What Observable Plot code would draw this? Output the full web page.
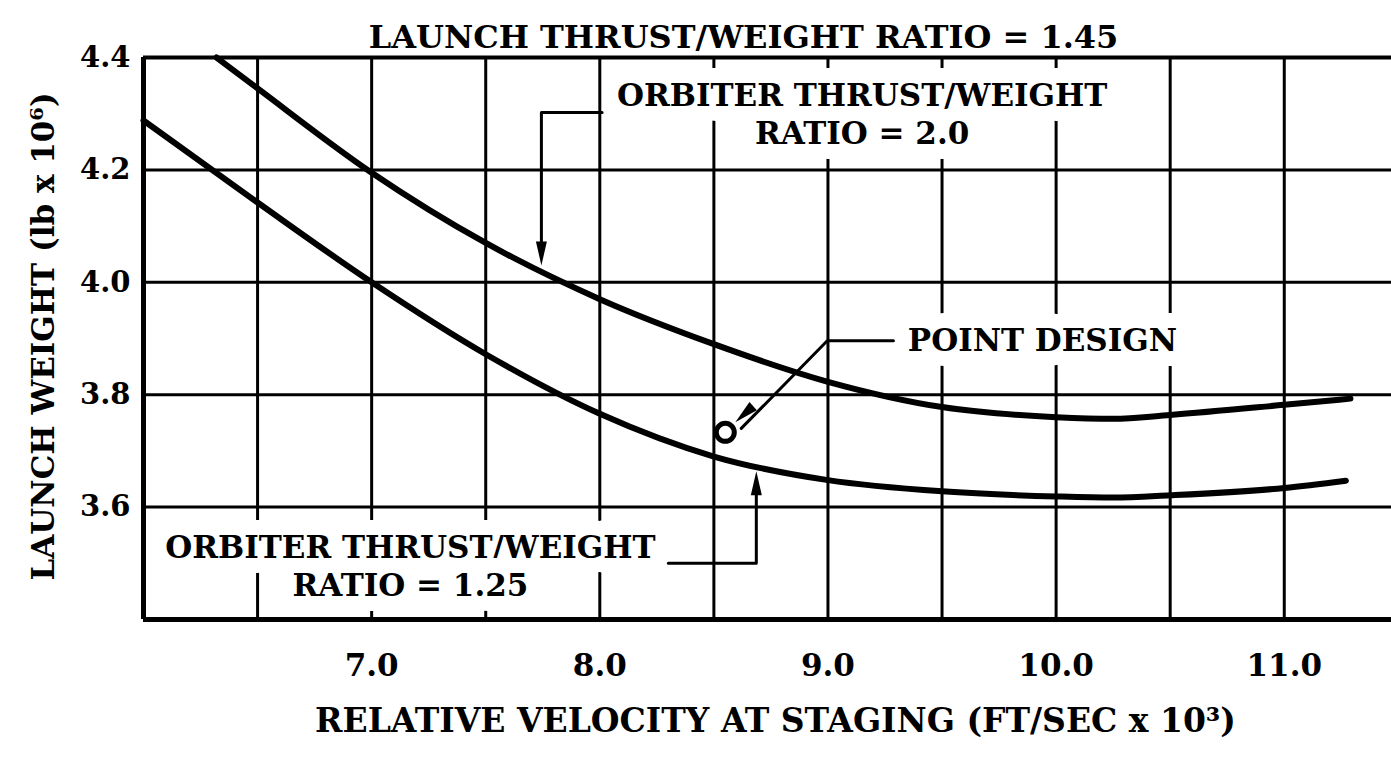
<!DOCTYPE html>
<html>
<head>
<meta charset="utf-8">
<script src="https://cdn.jsdelivr.net/npm/d3@7"></script>
<script src="https://cdn.jsdelivr.net/npm/@observablehq/plot@0.6"></script>
<style>
  html, body { margin: 0; padding: 0; background: #fff; }
  #chart svg { display: block; }
</style>
</head>
<body>
<div id="chart"></div>
<script>
// ---- data ----
const title = "LAUNCH THRUST/WEIGHT RATIO = 1.45";
const xTitle = "RELATIVE VELOCITY AT STAGING (FT/SEC x 10³)";
const yTitle = "LAUNCH WEIGHT (lb x 10⁶)";

const xTicks = [7, 8, 9, 10, 11];
const yTicks = [3.6, 3.8, 4.0, 4.2, 4.4];
const xGrid = [6.5, 7, 7.5, 8, 8.5, 9, 9.5, 10, 10.5, 11];
const yGrid = [3.6, 3.8, 4.0, 4.2];

// Orbiter thrust/weight ratio = 2.0
const tw20X = [6.32, 6.5, 7.0, 7.5, 8.0, 8.5, 9.0, 9.5, 10.0, 10.25, 10.5, 11.0, 11.29];
const tw20Y = [4.40, 4.345, 4.195, 4.070, 3.970, 3.890, 3.823, 3.778, 3.760, 3.757, 3.764, 3.782, 3.793];
// Orbiter thrust/weight ratio = 1.25
const tw125X = [6.0, 6.5, 7.0, 7.5, 8.0, 8.5, 9.0, 9.5, 10.0, 10.25, 10.5, 11.0, 11.27];
const tw125Y = [4.288, 4.142, 4.0, 3.872, 3.766, 3.690, 3.648, 3.628, 3.619, 3.617, 3.621, 3.634, 3.647];

// point design
const pointX = [8.55];
const pointY = [3.733];

// annotations
const labelText = ["ORBITER THRUST/WEIGHT\nRATIO = 2.0", "ORBITER THRUST/WEIGHT\nRATIO = 1.25", "POINT DESIGN"];
const labelX = [9.15, 7.17, 9.94];
const labelY = [4.301, 3.498, 3.90];

const leaderTW20 = [[8.01, 4.302], [7.744, 4.302], [7.744, 4.06]];
const leaderTW125 = [[8.30, 3.50], [8.686, 3.50], [8.686, 3.64]];
const leaderPoint = [[9.287, 3.896], [8.997, 3.896], [8.62, 3.74]];
const headX = [7.744, 8.686, 8.594];
const headY = [4.03, 3.664, 3.751];
const headAngle = [180, 0, 228];

// ---- build ----
const curves = [
  ...tw20X.map((x, i) => ({x, y: tw20Y[i], s: "2.0"})),
  ...tw125X.map((x, i) => ({x, y: tw125Y[i], s: "1.25"}))
];
const labels = labelText.map((t, i) => ({t, x: labelX[i], y: labelY[i]}));
const heads = headX.map((x, i) => ({x, y: headY[i], a: headAngle[i]}));
const leaders = [leaderTW20, leaderTW125, leaderPoint].flatMap((pts, k) => pts.map(([x, y]) => ({x, y, k})));

const needle = {
  draw(ctx) {
    ctx.moveTo(0, 0);
    ctx.lineTo(5.5, 24);
    ctx.lineTo(-5.5, 24);
    ctx.closePath();
  }
};

const serif = "'DejaVu Serif', 'Liberation Serif', serif";

const chart = Plot.plot({
  width: 1391,
  height: 763,
  marginTop: 57,
  marginLeft: 143,
  marginRight: 0,
  marginBottom: 144,
  x: {domain: [6, 11.47]},
  y: {domain: [3.4, 4.4]},
  style: {fontFamily: serif, fontWeight: "bold", background: "white", color: "black", fontSize: "30px"},
  marks: [
    Plot.ruleX(xGrid, {stroke: "black", strokeWidth: 3}),
    Plot.text(labels, {x: "x", y: "y", text: "t", fontSize: 31, lineHeight: 1.23, fill: "black", stroke: "white", strokeWidth: 30, fontWeight: "bold"}),
    Plot.ruleY(yGrid, {stroke: "black", strokeWidth: 3}),
    Plot.ruleY([3.4], {stroke: "black", strokeWidth: 5}),
    Plot.ruleY([4.4], {stroke: "black", strokeWidth: 4}),
    Plot.ruleX([6], {stroke: "black", strokeWidth: 5}),
    Plot.line(curves, {x: "x", y: "y", z: "s", stroke: "black", strokeWidth: 6, curve: "monotone-x"}),
    Plot.line(leaders, {x: "x", y: "y", z: "k", stroke: "black", strokeWidth: 3, curve: "linear"}),
    Plot.dot(heads, {x: "x", y: "y", rotate: "a", symbol: needle, fill: "black", stroke: "none"}),
    Plot.dot(pointX.map((x, i) => ({x, y: pointY[i]})), {x: "x", y: "y", r: 9, fill: "white", stroke: "black", strokeWidth: 5}),
    Plot.axisY(yTicks, {tickSize: 0, tickPadding: 13, tickFormat: d => d.toFixed(1), fontSize: 29, label: null}),
    Plot.axisX(xTicks, {tickSize: 0, tickPadding: 34, tickFormat: d => d.toFixed(1), fontSize: 31, label: null}),
    Plot.text([title], {frameAnchor: "top", dy: -32, dx: -24, fontSize: 32, fontWeight: "bold"}),
    Plot.text([xTitle], {frameAnchor: "bottom", dy: 112, dx: 8, fontSize: 33, fontWeight: "bold"}),
    Plot.text([yTitle], {frameAnchor: "left", textAnchor: "middle", dx: -99, dy: -2, rotate: -90, fontSize: 31, fontWeight: "bold"})
  ]
});
document.getElementById("chart").appendChild(chart);
</script>
</body>
</html>
